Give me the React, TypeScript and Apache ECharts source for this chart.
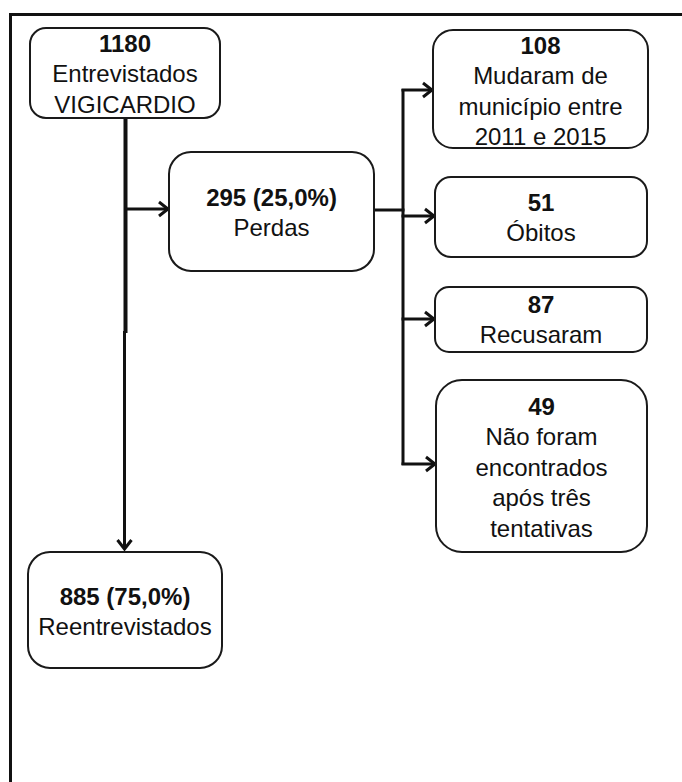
import React, { useEffect, useRef } from "react";
import * as echarts from "echarts";

// ---- Data ----
const nodeCounts: string[] = ["1180", "295 (25,0%)", "885 (75,0%)", "108", "51", "87", "49"];
const nodeLabels: string[][] = [
  ["Entrevistados", "VIGICARDIO"],
  ["Perdas"],
  ["Reentrevistados"],
  ["Mudaram de", "município entre", "2011 e 2015"],
  ["Óbitos"],
  ["Recusaram"],
  ["Não foram", "encontrados", "após três", "tentativas"],
];

// ---- Layout (positions / sizes) ----
// [x, y, width, height, radius, firstLineY]
const boxLayout: number[][] = [
  [30, 28, 190, 90, 16, 43],
  [169, 152, 205, 119, 22, 197],
  [28, 552, 194, 116, 22, 596],
  [433, 30, 215, 118, 20, 45],
  [435, 177, 212, 80, 16, 202],
  [435, 287, 212, 65, 14, 304],
  [436, 380, 211, 172, 26, 406],
];
const lineGap = 30.5;

const FONT = "'Liberation Sans', Arial, sans-serif";
const INK = "#111";

function arrowHead(tipX: number, tipY: number, dir: "right" | "down") {
  const L = 9;
  const W = 7;
  const pts =
    dir === "right"
      ? [
          [tipX - L, tipY - W],
          [tipX, tipY],
          [tipX - L, tipY + W],
        ]
      : [
          [tipX - W, tipY - L],
          [tipX, tipY],
          [tipX + W, tipY - L],
        ];
  return {
    type: "polyline",
    shape: { points: pts },
    style: { stroke: INK, lineWidth: 3, fill: null, lineJoin: "miter" },
    silent: true,
  };
}

function seg(x1: number, y1: number, x2: number, y2: number, w = 3) {
  return {
    type: "line",
    shape: { x1, y1, x2, y2 },
    style: { stroke: INK, lineWidth: w },
    silent: true,
  };
}

export default function App() {
  const ref = useRef<HTMLDivElement>(null);

  useEffect(() => {
    if (!ref.current) return;
    const chart = echarts.init(ref.current, undefined, { renderer: "svg" });

    const elements: any[] = [];

    // Outer frame (top and left edges visible)
    elements.push(seg(10, 14.5, 700, 14.5, 3));
    elements.push(seg(10.5, 13, 10.5, 800, 3));

    // Connectors
    elements.push(seg(125.5, 118, 125.5, 333, 4));
    elements.push(seg(124.5, 331, 124.5, 548, 3));
    elements.push(arrowHead(124.5, 549, "down"));
    elements.push(seg(125, 209, 167, 209));
    elements.push(arrowHead(168, 209, "right"));
    elements.push(seg(374, 210, 404.5, 210));
    elements.push(seg(403, 89, 403, 465));
    const busTargets = [
      [90, 432],
      [216, 434],
      [319, 434],
      [464, 435],
    ];
    busTargets.forEach(([y, x]) => {
      elements.push(seg(401.5, y, x - 1, y));
      elements.push(arrowHead(x, y, "right"));
    });

    // Boxes and texts
    boxLayout.forEach((b, i) => {
      const [x, y, w, h, r, ty] = b;
      elements.push({
        type: "rect",
        shape: { x, y, width: w, height: h, r },
        style: { fill: "#fff", stroke: "#1a1a1a", lineWidth: 2 },
        silent: true,
      });
      const cx = x + w / 2;
      const lines = [nodeCounts[i], ...nodeLabels[i]];
      lines.forEach((t, k) => {
        elements.push({
          type: "text",
          style: {
            text: t,
            x: cx,
            y: ty + k * lineGap,
            fill: INK,
            font: `${k === 0 ? "bold " : ""}24px ${FONT}`,
            textAlign: "center",
            textVerticalAlign: "middle",
            align: "center",
            verticalAlign: "middle",
          },
          silent: true,
        });
      });
    });

    chart.setOption({
      animation: false,
      backgroundColor: "#fff",
      graphic: { elements },
    });

    return () => chart.dispose();
  }, []);

  return (
    <div
      ref={ref}
      style={{ position: "absolute", left: 0, top: 0, width: 682, height: 782 }}
    />
  );
}
